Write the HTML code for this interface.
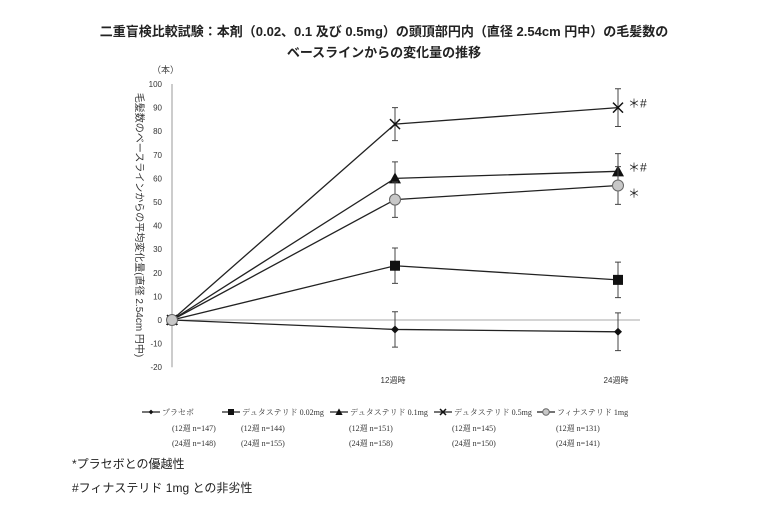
<!DOCTYPE html>
<html><head><meta charset="utf-8"><style>
body{margin:0;background:#fff;width:768px;height:505px;overflow:hidden;font-family:"Liberation Sans","Noto Sans CJK JP",sans-serif}
</style></head><body>
<svg width="768" height="505" xmlns="http://www.w3.org/2000/svg" id="svg" font-family="'Liberation Sans','Noto Sans CJK JP',sans-serif">
<text x="384" y="36" text-anchor="middle" font-size="13" font-weight="bold" fill="#222">二重盲検比較試験：本剤（0.02、0.1 及び 0.5mg）の頭頂部円内（直径 2.54cm 円中）の毛髪数の</text>
<text x="384" y="57" text-anchor="middle" font-size="13" font-weight="bold" fill="#222">ベースラインからの変化量の推移</text>
<text x="152" y="73" font-size="9" fill="#444">（本）</text>
<text transform="translate(136,225) rotate(90)" text-anchor="middle" font-size="10" fill="#333">毛髪数のベースラインからの平均変化量(直径 2.54cm 円中)</text>
<g id="axes"></g><g id="marks"></g>
<g font-size="8" fill="#333" font-family="'Liberation Serif','Noto Serif CJK SC',serif" id="legend"></g>
<text x="72" y="468" font-size="12" fill="#222">*プラセボとの優越性</text>
<text x="72" y="492" font-size="12" fill="#222">#フィナステリド 1mg との非劣性</text>
</svg>
<script>
const weeks=[0,12,24];
const xLabels=["","12週時","24週時"];
const yTicks=[100,90,80,70,60,50,40,30,20,10,0,-10,-20];
const seriesNames=["プラセボ","デュタステリド 0.02mg","デュタステリド 0.1mg","デュタステリド 0.5mg","フィナステリド 1mg"];
const placebo=[0,-4,-5];
const dut002=[0,23,17];
const dut01=[0,60,63];
const dut05=[0,83,90];
const fin1=[0,51,57];
const errPlacebo=[0,7.5,8];
const errDut002=[0,7.5,7.5];
const errDut01=[0,7,7.5];
const errDut05=[0,7,8];
const errFin1=[0,7.5,8];
const n12=["147","144","151","145","131"];
const n24=["148","155","158","150","141"];
const sigLabels=["","","＊#","＊#","＊"];
const NS="http://www.w3.org/2000/svg";
const X=w=>172+(w/24)*446;
const Y=v=>320-v*2.36;
function mk(t,a,p){const e=document.createElementNS(NS,t);for(const k in a)e.setAttribute(k,a[k]);p.appendChild(e);return e;}
const axes=document.getElementById('axes'),marks=document.getElementById('marks'),leg=document.getElementById('legend');
let ya=mk('line',{x1:172,x2:172,y1:Y(100),y2:Y(-20),stroke:'#999'},axes);

let za=mk('line',{x1:172,x2:640,y1:Y(0),y2:Y(0),stroke:'#aaa'},axes);

yTicks.forEach(v=>{let t=mk('text',{x:162,y:Y(v)+3,'text-anchor':'end','font-size':8,fill:'#333'},axes);t.textContent=v;
});
weeks.forEach((w,i)=>{if(!xLabels[i])return;let t=mk('text',{x:X(w)-2,y:383,'text-anchor':'middle','font-size':8,fill:'#333'},axes);t.textContent=xLabels[i];
});
const data=[placebo,dut002,dut01,dut05,fin1],errs=[errPlacebo,errDut002,errDut01,errDut05,errFin1];
function marker(type,cx,cy,p,s){
 if(type==0)return mk('path',{d:`M${cx} ${cy-4*s}L${cx+4*s} ${cy}L${cx} ${cy+4*s}L${cx-4*s} ${cy}Z`,fill:'#111'},p);
 if(type==1)return mk('rect',{x:cx-5*s,y:cy-5*s,width:10*s,height:10*s,fill:'#111'},p);
 if(type==2)return mk('path',{d:`M${cx} ${cy-6*s}L${cx+6*s} ${cy+5*s}L${cx-6*s} ${cy+5*s}Z`,fill:'#111'},p);
 if(type==3)return mk('path',{d:`M${cx-5*s} ${cy-5*s}L${cx+5*s} ${cy+5*s}M${cx+5*s} ${cy-5*s}L${cx-5*s} ${cy+5*s}`,stroke:'#111','stroke-width':1.5,fill:'none'},p);
 return mk('circle',{cx,cy,r:5.5*s,fill:'#c8c8c8',stroke:'#666'},p);
}
data.forEach((d,si)=>{
 const g=mk('g',{},marks);
 const pl=mk('polyline',{points:d.map((v,i)=>X(weeks[i])+','+Y(v)).join(' '),fill:'none',stroke:'#222','stroke-width':1.3},g);
 
 d.forEach((v,i)=>{const e=errs[si][i];if(e>0){const x=X(weeks[i]);
  const eb=mk('path',{d:`M${x} ${Y(v+e)}V${Y(v-e)}M${x-3} ${Y(v+e)}H${x+3}M${x-3} ${Y(v-e)}H${x+3}`,stroke:'#444',fill:'none'},g);
  }
  const m=marker(si,X(weeks[i]),Y(v),g,1);});
 if(sigLabels[si]){const t=mk('text',{x:X(24)+10,y:Y(d[2])+(si==4?12:0),'font-size':12,fill:'#222'},g);t.textContent=sigLabels[si];
  }
});
const lx=[142,222,330,434,537];
const nx=[172,241,349,452,556];
seriesNames.forEach((n,i)=>{
 const g=mk('g',{},leg);
 mk('line',{x1:lx[i],x2:lx[i]+18,y1:412,y2:412,stroke:'#222','stroke-width':1.3},g);
 marker(i,lx[i]+9,412,g,0.6);
 let t=mk('text',{x:lx[i]+20,y:415},g);t.textContent=n;
 let a=mk('text',{x:nx[i],y:431},g);a.textContent='(12週 n='+n12[i]+')';
 let b=mk('text',{x:nx[i],y:446},g);b.textContent='(24週 n='+n24[i]+')';
});
</script>
</body></html>
